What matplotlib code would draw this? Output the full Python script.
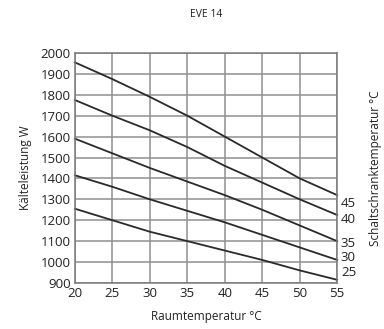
import matplotlib
matplotlib.use("Agg")
import matplotlib.pyplot as plt

# Raumtemperatur in °C
raumtemp = [20, 25, 30, 35, 40, 45, 50, 55]

# Kälteleistung W je Schaltschranktemperatur
schrank_temps = [45, 40, 35, 30, 25]
leistung = {
    45: [1955, 1875, 1790, 1700, 1600, 1500, 1400, 1320],
    40: [1775, 1700, 1630, 1550, 1460, 1380, 1300, 1225],
    35: [1590, 1520, 1450, 1385, 1320, 1250, 1175, 1100],
    30: [1415, 1360, 1300, 1245, 1190, 1130, 1070, 1010],
    25: [1255, 1200, 1145, 1100, 1055, 1010, 960, 915],
}
label_y = {45: 1280, 40: 1205, 35: 1090, 30: 1020, 25: 950}

plt.rcParams['font.family'] = ['Open Sans', 'DejaVu Sans']

fig = plt.figure(figsize=(3.84, 3.29), dpi=100)
ax = fig.add_axes([0.195, 0.14, 0.683, 0.699])

for t in schrank_temps:
    ax.plot(raumtemp, leistung[t], color='#2a2a2a', lw=1.3, clip_on=False)
    ax.text(55.5, label_y[t], str(t), fontsize=9.5, va='center', ha='left', color='#222222')

ax.set_xlim(20, 55)
ax.set_ylim(900, 2000)
ax.set_xticks(range(20, 56, 5))
ax.set_yticks(range(900, 2001, 100))
ax.grid(True, color='#8f8f8f', lw=1.1)
for s in ax.spines.values():
    s.set_color('#7a7a7a')
    s.set_linewidth(1.1)
ax.tick_params(length=0, labelsize=9.5, colors='#222222', pad=3)

ax.set_xlabel('Raumtemperatur °C', fontsize=8.5, color='#222222', labelpad=7)
ax.set_ylabel('Kälteleistung W', fontsize=8.5, color='#222222', labelpad=6)
ax.set_title('EVE 14', fontsize=7.5, color='#222222', pad=26)
fig.text(0.978, 0.49, 'Schaltschranktemperatur °C', rotation=90, fontsize=8.5,
         color='#222222', ha='center', va='center')

fig.savefig('out.png', dpi=100)
